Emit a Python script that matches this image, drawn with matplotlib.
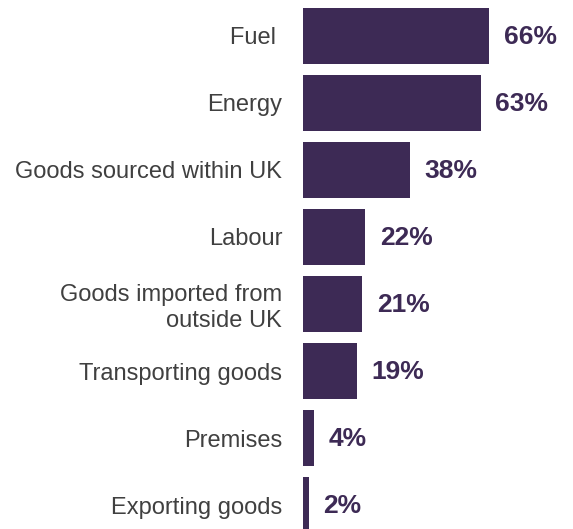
import matplotlib
matplotlib.use("Agg")
import matplotlib.pyplot as plt

categories = [
    "Fuel ",
    "Energy",
    "Goods sourced within UK",
    "Labour",
    "Goods imported from\noutside UK",
    "Transporting goods",
    "Premises",
    "Exporting goods",
]
values = [66, 63, 38, 22, 21, 19, 4, 2]
value_labels = ["66%", "63%", "38%", "22%", "21%", "19%", "4%", "2%"]

bar_color = "#3d2a55"
text_color = "#404040"

plt.rcParams["font.family"] = ["Liberation Sans", "DejaVu Sans"]

fig = plt.figure(figsize=(5.73, 5.29), dpi=100)
ax = fig.add_axes([303 / 573, 0.0, 270 / 573, 1.0])

positions = list(range(len(categories)))
ax.barh(positions, values, height=0.835, color=bar_color)

ax.set_xlim(0, 95.7)
ax.set_ylim(7.358, -0.537)

ax.set_yticks(positions)
ax.set_yticklabels(categories, fontsize=17, color=text_color, ha="right")
ax.tick_params(axis="y", length=0, pad=15)
ax.set_xticks([])

for spine in ax.spines.values():
    spine.set_visible(False)

for pos, val, lab in zip(positions, values, value_labels):
    ax.annotate(lab, xy=(val, pos), xytext=(10.5, -1), textcoords="offset points",
                ha="left", va="center", fontsize=19, fontweight="bold",
                color=bar_color)

fig.savefig("out.png", dpi=100)
